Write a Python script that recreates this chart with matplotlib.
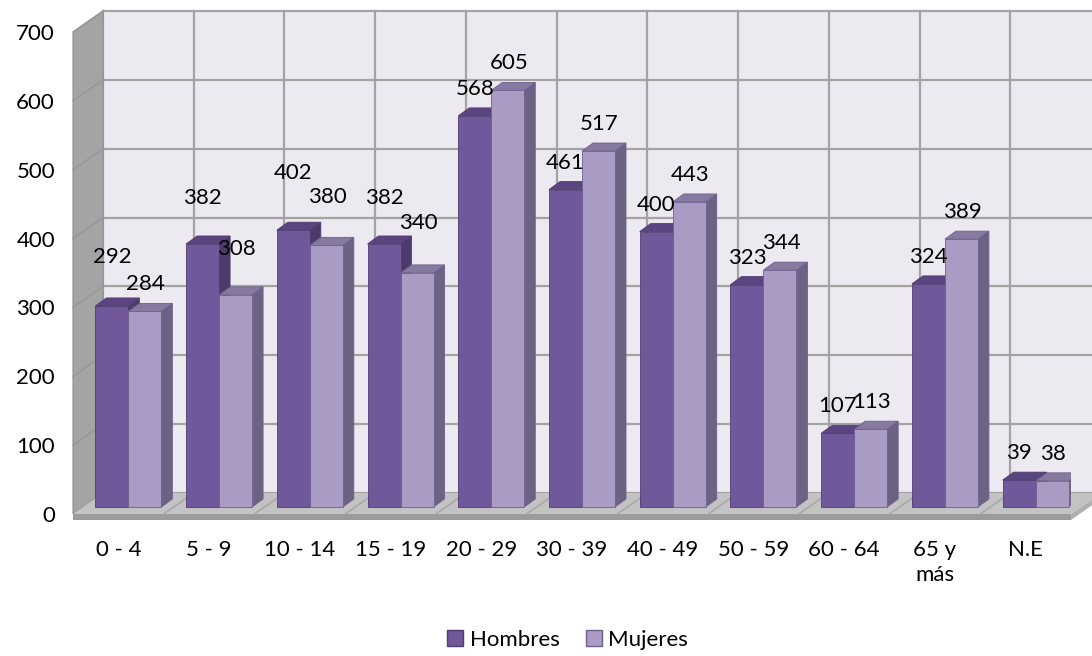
import matplotlib
matplotlib.use("Agg")
import matplotlib.pyplot as plt
from matplotlib.patches import Polygon, Patch

plt.rcParams['font.family'] = ['Lato', 'DejaVu Sans']

groups = ['0 - 4', '5 - 9', '10 - 14', '15 - 19', '20 - 29', '30 - 39',
          '40 - 49', '50 - 59', '60 - 64', '65 y\nmás', 'N.E']
hombres = [292, 382, 402, 382, 568, 461, 400, 323, 107, 324, 39]
mujeres = [284, 308, 380, 340, 605, 517, 443, 344, 113, 389, 38]

# extra lift (px) Excel gave some labels to dodge each other
lift_h = [22, 19, 30, 19, 0, 0, 0, 0, 0, 0, 0]
lift_m = [0, 19, 21, 23, 0, 0, 0, 0, 0, 0, 0]

W, H, DPI = 1092, 656, 100
FS = 16
fig = plt.figure(figsize=(W / DPI, H / DPI), dpi=DPI)

# front plane of the 3d box, in pixels
x0_px, x1_px = 73, 1071
y0_px, y1_px = 514, 32
ax = fig.add_axes([x0_px / W, 1 - y0_px / H, (x1_px - x0_px) / W, (y0_px - y1_px) / H])
ax.set_xlim(-0.5, 10.5)
ax.set_ylim(0, 700)
ax.patch.set_visible(False)
for s in ax.spines.values():
    s.set_visible(False)

px_x = (x1_px - x0_px) / 11.0      # pixels per category
px_y = (y0_px - y1_px) / 700.0     # pixels per value unit


def depth(dx, dy):
    return dx / px_x, dy / px_y


wdx, wdy = depth(30, 21)   # back wall
fdx, fdy = depth(10, 7)    # bar front face
bdx, bdy = depth(21, 15)   # bar back face

wall_col = '#eceaf0'
grid_col = '#a3a3a3'

# back wall
ax.add_patch(Polygon([(-0.5 + wdx, wdy), (10.5 + wdx, wdy), (10.5 + wdx, 700 + wdy),
                      (-0.5 + wdx, 700 + wdy)], closed=True, fc=wall_col, ec='none',
                     clip_on=False, zorder=0))
for v in range(0, 701, 100):
    ax.plot([-0.5 + wdx, 10.5 + wdx], [v + wdy, v + wdy], color=grid_col, lw=1.6,
            clip_on=False, zorder=1)
for k in range(12):
    ax.plot([k - 0.5 + wdx] * 2, [wdy, 700 + wdy], color=grid_col, lw=1.6,
            clip_on=False, zorder=1)

# left side wall
ax.add_patch(Polygon([(-0.5, 0), (-0.5, 700), (-0.5 + wdx, 700 + wdy), (-0.5 + wdx, wdy)],
                     closed=True, fc='#a4a4a4', ec='#8f8f8f', lw=0.8, clip_on=False, zorder=1))
for v in range(100, 701, 100):
    ax.plot([-0.5, -0.5 + wdx], [v, v + wdy], color='#969696', lw=1.0,
            clip_on=False, zorder=1)

# floor and its front edge
ax.add_patch(Polygon([(-0.5, 0), (10.5, 0), (10.5 + wdx, wdy), (-0.5 + wdx, wdy)],
                     closed=True, fc='#c3c3c3', ec='none', clip_on=False, zorder=1))
ax.add_patch(Polygon([(-0.5, 0), (10.5, 0), (10.5, -6 / px_y), (-0.5, -6 / px_y)],
                     closed=True, fc='#9b9b9b', ec='none', clip_on=False, zorder=1))
ax.add_patch(Polygon([(10.5, 0), (10.5 + wdx, wdy), (10.5 + wdx, wdy - 6 / px_y),
                      (10.5, -6 / px_y)], closed=True, fc='#b0b0b0', ec='none',
                     clip_on=False, zorder=1))
for k in range(1, 11):
    ax.plot([k - 0.5, k - 0.5 + wdx], [0, wdy], color='#a8a8a8', lw=1.2,
            clip_on=False, zorder=1)

bw = 33 / px_x
styles = {
    'h': dict(front='#70589a', top='#5b4580', side='#4c3a6c', edge='#4f3c70'),
    'm': dict(front='#aa9bc4', top='#877aa0', side='#6c6283', edge='#6f5f8e'),
}


def bar3d(xl, v, st, z):
    xr = xl + bw
    front = [(xl + fdx, fdy), (xr + fdx, fdy), (xr + fdx, v + fdy), (xl + fdx, v + fdy)]
    top = [(xl + fdx, v + fdy), (xr + fdx, v + fdy), (xr + bdx, v + bdy), (xl + bdx, v + bdy)]
    side = [(xr + fdx, fdy), (xr + bdx, bdy), (xr + bdx, v + bdy), (xr + fdx, v + fdy)]
    ax.add_patch(Polygon(side, closed=True, fc=st['side'], ec=st['edge'], lw=0.6, zorder=z))
    ax.add_patch(Polygon(top, closed=True, fc=st['top'], ec=st['edge'], lw=0.6, zorder=z))
    ax.add_patch(Polygon(front, closed=True, fc=st['front'], ec=st['edge'], lw=0.6,
                         zorder=z + 0.1))


for i in range(len(groups)):
    bar3d(i - bw, hombres[i], styles['h'], 2 + i * 0.5)
    bar3d(i, mujeres[i], styles['m'], 2.2 + i * 0.5)

lab_kw = dict(textcoords='offset pixels', ha='center', va='center', fontsize=FS,
              color='black', zorder=20, annotation_clip=False)
for i in range(len(groups)):
    ax.annotate(str(hombres[i]), (i - bw / 2 + fdx, hombres[i] + fdy),
                xytext=(0, 27 + lift_h[i]), **lab_kw)
    ax.annotate(str(mujeres[i]), (i + bw / 2 + fdx, mujeres[i] + fdy),
                xytext=(1, 27 + lift_m[i]), **lab_kw)

ax.set_yticks(range(0, 701, 100))
ax.set_xticks(range(len(groups)))
ax.set_xticklabels(groups, fontsize=FS, linespacing=1.35)
ax.tick_params(axis='y', length=0, pad=13, labelsize=FS)
ax.tick_params(axis='x', length=0, pad=18.5)

handles = [Patch(fc=styles['h']['front'], ec=styles['h']['edge'], lw=1, label='Hombres'),
           Patch(fc=styles['m']['front'], ec=styles['m']['edge'], lw=1, label='Mujeres')]
fig.legend(handles=handles, loc='center', bbox_to_anchor=(0.52, 0.025), ncol=2,
           frameon=False, fontsize=FS, handlelength=0.7, handleheight=0.7,
           handletextpad=0.3, columnspacing=1.2)

fig.savefig('out.png', dpi=DPI)
